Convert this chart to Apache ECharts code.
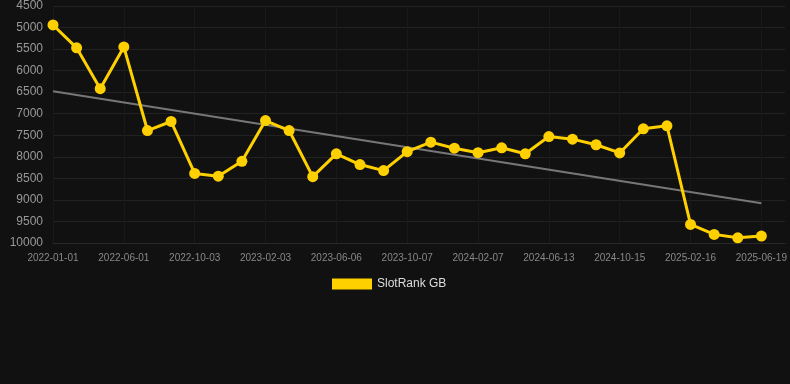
<!DOCTYPE html>
<html>
<head>
<meta charset="utf-8">
<script src="https://cdn.jsdelivr.net/npm/echarts@6/dist/echarts.min.js"></script>
<style>
  html, body { margin: 0; padding: 0; background: #111111; }
  #chart { width: 790px; height: 384px; }
</style>
</head>
<body>
<div id="chart"></div>
<script>
// dates every ~41 days, last one empty so the grid runs past the last point
const dates = [
  "2022-01-01", "2022-02-11", "2022-03-24", "2022-06-01", "2022-07-12", "2022-08-22",
  "2022-10-03", "2022-11-13", "2022-12-24", "2023-02-03", "2023-03-16", "2023-04-26",
  "2023-06-06", "2023-07-17", "2023-08-27", "2023-10-07", "2023-11-17", "2023-12-28",
  "2024-02-07", "2024-03-19", "2024-05-03", "2024-06-13", "2024-07-24", "2024-09-03",
  "2024-10-15", "2024-11-25", "2025-01-05", "2025-02-16", "2025-03-29", "2025-05-09",
  "2025-06-19", ""
];
const rankGB = [
  4940, 5470, 6420, 5450, 7390, 7180, 8385, 8450, 8105, 7160, 7390,
  8460, 7930, 8180, 8320, 7880, 7660, 7800, 7905, 7790, 7930,
  7530, 7590, 7720, 7910, 7350, 7280, 9570, 9800, 9880, 9840, null
];
// trend line
const trendStart = 6480;
const trendEnd = 9076;
const trend = dates.map((d, i) => (i === 0 ? trendStart : i === 30 ? trendEnd : null));

const chart = echarts.init(document.getElementById("chart"));
chart.setOption({
  backgroundColor: "#111111",
  animation: false,
  grid: { left: 53, right: 5, top: 5, bottom: 141 },
  legend: {
    data: ["SlotRank GB"],
    top: 278,
    left: 332,
    padding: 0,
    icon: "rect",
    itemWidth: 40,
    itemHeight: 11,
    itemGap: 10,
    textStyle: { color: "#dddddd", fontSize: 12, fontFamily: "Liberation Sans, Arial, sans-serif" },
  },
  xAxis: {
    type: "category",
    boundaryGap: false,
    data: dates,
    axisLine: { show: true, lineStyle: { color: "#2a2a2a" } },
    axisTick: { show: false },
    axisLabel: {
      interval: 2,
      color: "#888888",
      fontSize: 10,
      margin: 10,
      fontFamily: "Liberation Sans, Arial, sans-serif",
    },
    splitLine: { show: true, interval: 2, lineStyle: { color: "#191919" } },
  },
  yAxis: {
    type: "value",
    inverse: true,
    min: 4500,
    max: 10000,
    interval: 500,
    axisLine: { show: false },
    axisTick: { show: false },
    axisLabel: {
      color: "#999999",
      fontSize: 12,
      margin: 10,
      formatter: (v) => String(v),
      fontFamily: "Liberation Sans, Arial, sans-serif",
    },
    splitLine: { lineStyle: { color: "#222222" } },
  },
  series: [
    {
      name: "Trend",
      type: "line",
      data: trend,
      connectNulls: true,
      symbol: "none",
      lineStyle: { color: "#777777", width: 2 },
      z: 1,
    },
    {
      name: "SlotRank GB",
      type: "line",
      data: rankGB,
      symbol: "circle",
      symbolSize: 11,
      itemStyle: { color: "#ffd000" },
      lineStyle: { color: "#ffd000", width: 3 },
      z: 2,
    },
  ],
});
</script>
</body>
</html>
